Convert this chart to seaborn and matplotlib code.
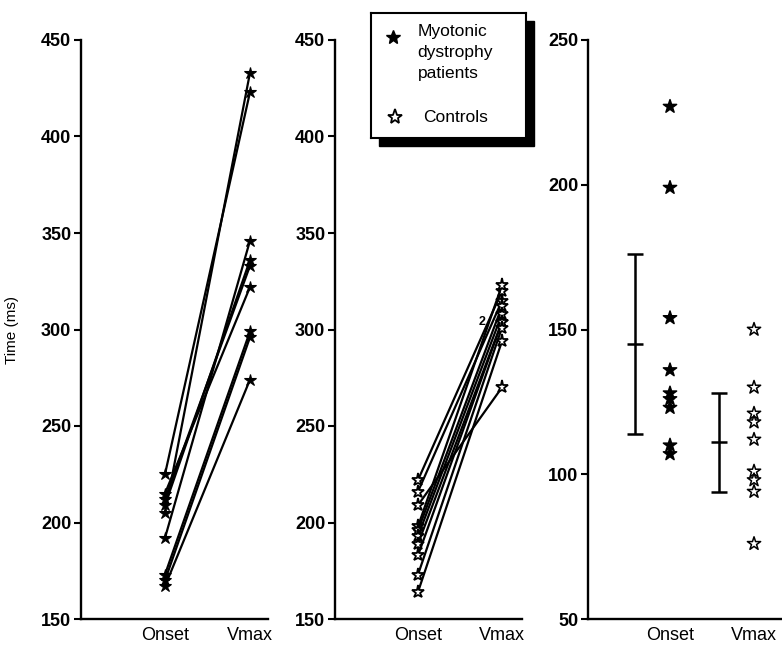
import numpy as np
import pandas as pd
import matplotlib
matplotlib.use("Agg")
import matplotlib.pyplot as plt
from matplotlib.patches import Rectangle
import seaborn as sns

# ── data (ms) ────────────────────────────────────────────────────────────────
PHASES = ["Onset", "Vmax"]

# panel 1: myotonic dystrophy patients, paired onset / Vmax
PATIENT_ONSET = [205, 225, 192, 209, 212, 215, 173, 170, 167]
PATIENT_VMAX = [433, 423, 346, 336, 333, 322, 299, 296, 274]

# panel 2: controls, paired onset / Vmax
CONTROL_ONSET = [222, 216, 209, 198, 196, 193, 189, 183, 173, 164]
CONTROL_VMAX = [320, 315, 270, 323, 312, 308, 304, 304, 301, 294]

# panel 3: single values with mean +/- SD
PATIENT_P3 = [227, 199, 154, 136, 128, 126, 123, 110, 107]
CONTROL_P3 = [150, 130, 121, 118, 112, 101, 98, 94, 76]
P3_MEAN = [145, 111]
P3_SD = [31, 17]

LEFT_TICKS = [150, 200, 250, 300, 350, 400, 450]
RIGHT_TICKS = [50, 100, 150, 200, 250]

sns.set_style("ticks")
plt.rcParams["font.family"] = ["Liberation Sans", "DejaVu Sans"]
plt.rcParams.update({
    "text.color": "black", "axes.labelcolor": "black",
    "xtick.color": "black", "ytick.color": "black",
    "axes.edgecolor": "black",
})

W, H = 782, 646
fig = plt.figure(figsize=(W / 100, H / 100), dpi=100)


def paired_frame(onset, vmax):
    n = len(onset)
    df = pd.DataFrame({
        "subject": list(range(n)) * 2,
        "phase": ["Onset"] * n + ["Vmax"] * n,
        "time": list(onset) + list(vmax),
    })
    df["pos"] = df["phase"].map({p: i for i, p in enumerate(PHASES)})
    return df


def style_axis(ax, yticks):
    sns.despine(ax=ax)
    for side in ("left", "bottom"):
        ax.spines[side].set_linewidth(1.7)
    ax.set_yticks(yticks)
    ax.set_yticklabels([str(t) for t in yticks], fontweight="bold")
    ax.tick_params(axis="y", length=5, width=1.5, labelsize=13, pad=2)
    ax.tick_params(axis="x", length=0, labelsize=13, pad=6)
    ax.set_xlabel("")
    ax.set_ylabel("")
    ax.set_facecolor("none")


# ── panels 1 and 2: paired lines ─────────────────────────────────────────────
ax1 = fig.add_axes([81 / W, 27 / H, 187 / W, 579 / H])
ax2 = fig.add_axes([335 / W, 27 / H, 187 / W, 579 / H])

sns.lineplot(data=paired_frame(PATIENT_ONSET, PATIENT_VMAX), x="pos", y="time",
             units="subject", estimator=None, color="black", lw=1.6,
             marker="*", ms=9, mfc="black", mec="black", mew=0.8,
             legend=False, ax=ax1)
sns.lineplot(data=paired_frame(CONTROL_ONSET, CONTROL_VMAX), x="pos", y="time",
             units="subject", estimator=None, color="black", lw=1.6,
             marker="*", ms=9.5, mfc="white", mec="black", mew=1.3,
             legend=False, ax=ax2)
ax2.annotate("2", xy=(1, 304), xytext=(-14, 0), textcoords="offset points",
             ha="center", va="center", fontsize=9, fontweight="bold")

for ax, right in ((ax1, 1.212), (ax2, 1.238)):
    ax.set_xlim(-0.988, right)
    ax.set_ylim(150, 450)
    ax.set_xticks(range(len(PHASES)))
    ax.set_xticklabels(PHASES)
    style_axis(ax, LEFT_TICKS)

ax1.set_ylabel("Time (ms)", fontsize=11)
ax1.yaxis.set_label_coords(-0.33, 0.5)

# ── panel 3: single values + mean/SD bars ────────────────────────────────────
ax3 = fig.add_axes([588 / W, 27 / H, 194 / W, 579 / H])
p3 = pd.DataFrame({
    "group": [PHASES[0]] * len(PATIENT_P3) + [PHASES[1]] * len(CONTROL_P3),
    "time": PATIENT_P3 + CONTROL_P3,
})
sns.stripplot(data=p3, x="group", y="time", hue="group",
              palette={"Onset": "black", "Vmax": "white"}, marker="*",
              size=10, jitter=False, edgecolor="black", linewidth=1.1,
              legend=False, ax=ax3)
ax3.errorbar(np.arange(len(P3_MEAN)) - 0.42, P3_MEAN, yerr=P3_SD, fmt="_",
             ms=12, mew=1.8, color="black", elinewidth=1.8,
             capsize=6, capthick=1.8)
ax3.set_xlim(-0.976, 1.333)
ax3.set_ylim(50, 250)
style_axis(ax3, RIGHT_TICKS)

# ── key box with drop shadow ─────────────────────────────────────────────────
fig.add_artist(Rectangle((379 / W, 1 - 146 / H), 155 / W, 125 / H,
                         transform=fig.transFigure, color="black", zorder=4))
key = fig.add_axes([371 / W, 1 - 138 / H, 155 / W, 125 / H], zorder=5)
key.set_xlim(0, 1)
key.set_ylim(0, 1)
key.set_xticks([])
key.set_yticks([])
key.set_facecolor("white")
for sp in key.spines.values():
    sp.set_visible(True)
    sp.set_linewidth(1.5)
    sp.set_color("black")
key.plot([0.142], [0.808], marker="*", ms=10, color="black", ls="none")
key.plot([0.155], [0.168], marker="*", ms=11, mfc="white", mec="black",
         mew=1.3, ls="none")
key.text(0.30, 0.91, "Myotonic\ndystrophy\npatients", fontsize=12.5,
         va="top", ha="left", linespacing=1.5)
key.text(0.335, 0.168, "Controls", fontsize=12.5, va="center", ha="left")

fig.savefig("out.png", dpi=100)
